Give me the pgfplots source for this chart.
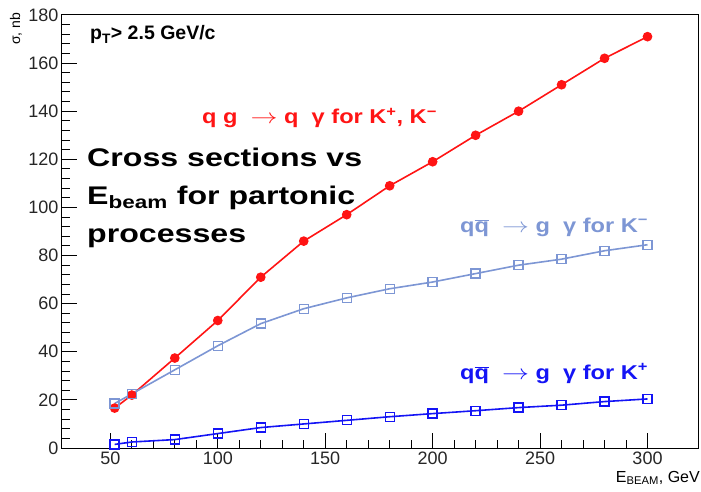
\documentclass[border=0pt]{standalone}
\usepackage{fontspec}
\setmainfont{Liberation Sans}
\newfontfamily\lblfont[FakeStretch=1.18]{Liberation Sans}
\newfontfamily\bigfont[FakeStretch=1.26]{Liberation Sans}
\usepackage{pgfplots}
\pgfplotsset{compat=1.18}
\definecolor{cred}{RGB}{255,20,20}
\definecolor{clight}{RGB}{125,150,212}
\definecolor{cblue}{RGB}{20,20,245}
\newcommand{\arr}{\scalebox{1.3}[1]{$\rightarrow$}}
\begin{document}
\begin{tikzpicture}
\path[use as bounding box] (-62pt,-43pt) rectangle (639pt,448pt);
\begin{axis}[
  at={(0pt,0pt)}, anchor=south west,
  scale only axis, width=636pt, height=433pt,
  xmin=27.5, xmax=323.5, ymin=0, ymax=180,
  xtick={50,100,...,300}, ytick={0,20,...,180},
  minor x tick num=4, minor y tick num=4,
  tick pos=left, tick align=inside,
  major tick length=15pt, minor tick length=8pt,
  axis line style={line width=1pt},
  tick style={line width=1pt, black},
  ticklabel style={font=\fontsize{18}{20}\selectfont, text=black!85},
  /pgf/number format/assume math mode=true,
  clip=false,
]
\addplot[cred, line width=1.6pt, mark=*, mark size=4pt, mark options={solid}] coordinates {
(52,16.6) (60,22) (80,37.4) (100,53) (120,71) (140,86) (160,97) (180,109) (200,119) (220,130) (240,140) (260,151) (280,162) (300,171)
};
\addplot[clight, line width=1.6pt, mark=square, mark size=4.5pt, mark options={solid, line width=1.3pt}] coordinates {
(52,18.5) (60,22.5) (80,32.5) (100,42.5) (120,51.7) (140,57.9) (160,62.4) (180,66.2) (200,69) (220,72.5) (240,76) (260,78.5) (280,82) (300,84.5)
};
\addplot[cblue, line width=1.6pt, mark=square, mark size=4.5pt, mark options={solid, line width=1.3pt}] coordinates {
(52,1.5) (60,2.5) (80,3.5) (100,6) (120,8.5) (140,10) (160,11.5) (180,13) (200,14.3) (220,15.5) (240,16.8) (260,17.8) (280,19.3) (300,20.4)
};
\end{axis}
% texts
\node[rotate=90, font=\fontsize{14}{16}\selectfont] at (-46pt,419pt) {σ, nb};
\node[anchor=base east, font=\fontsize{16}{18}\selectfont, inner sep=0pt] at (638pt,-34pt) {E\textsubscript{BEAM}, GeV};
\node[anchor=base west, font=\bfseries\fontsize{19.5}{22}\selectfont, inner sep=0pt] at (28pt,408pt) {p\textsubscript{T}> 2.5 GeV/c};
\node[anchor=base west, font=\lblfont\bfseries\fontsize{20}{22}\selectfont, inner sep=0pt, text=cred] at (140pt,324pt) {q g \ \arr\ q \ γ for K\textsuperscript{+}, K\textsuperscript{−}};
\node[anchor=base west, font=\bigfont\bfseries\fontsize{25.5}{38}\selectfont, inner sep=0pt, align=left] at (25pt,206pt) {Cross sections vs\\E\textsubscript{beam} for partonic\\processes};
\node[anchor=base west, font=\lblfont\bfseries\fontsize{20}{22}\selectfont, inner sep=0pt, text=clight] at (398pt,216pt) {q$\overline{\mbox{q}}$ \ \arr\ g \ γ for K\textsuperscript{−}};
\node[anchor=base west, font=\lblfont\bfseries\fontsize{20}{22}\selectfont, inner sep=0pt, text=cblue] at (398pt,69pt) {q$\overline{\mbox{q}}$ \ \arr\ g \ γ for K\textsuperscript{+}};
\end{tikzpicture}
\end{document}
